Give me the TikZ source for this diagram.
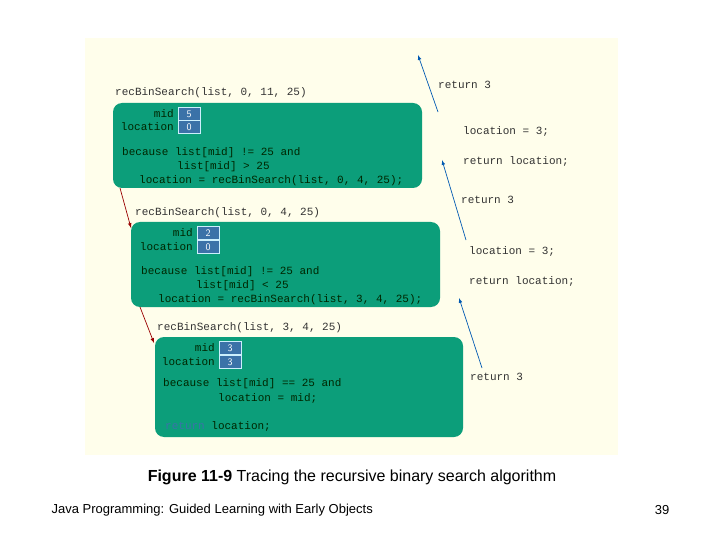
\documentclass[tikz,border=0pt]{standalone}
\usepackage{fontspec}
\setmainfont{Liberation Sans}
\newfontfamily\codefont{Liberation Mono}
\begin{document}
\begin{tikzpicture}[x=1pt,y=-1pt,
  code/.style={anchor=west,inner sep=0pt,font=\codefont\fontsize{11}{12}\selectfont,text=black!80},
  incode/.style={code,text=black!75!green!60!black},
  frame/.style={fill=green!55!black!70!cyan!90!black,rounded corners=9pt},
  valbox/.style={fill=blue!45!cyan!60!black,draw=cyan!20,line width=0.8pt,minimum width=22pt,minimum height=13pt,inner sep=0pt,text=white,font=\sffamily\fontsize{10}{10}\selectfont},
  ret/.style={draw=blue!50!cyan!70!black,line width=0.7pt,-latex},
  rec/.style={draw=red!60!black,line width=0.7pt,-latex}]
\useasboundingbox (0,0) rectangle (720,540);
\fill[white] (0,0) rectangle (720,540);
\fill[orange!10!yellow!8] (85,38) rectangle (618,455);
\definecolor{gbox}{HTML}{0C9E7A}
\definecolor{vbox}{HTML}{3B72A8}
\tikzset{frame/.style={fill=gbox,rounded corners=9pt},valbox/.append style={fill=vbox}}
% boxes
\fill[frame] (113,103) rectangle (422,188);
\fill[frame] (131,222) rectangle (440,307);
\fill[frame] (155,337) rectangle (463,437);
% headers
\node[code] (h1) at (115,93) {recBinSearch(list, 0, 11, 25)};
\node[code] (h2) at (135,213) {recBinSearch(list, 0, 4, 25)};
\node[code] (h3) at (157,328) {recBinSearch(list, 3, 4, 25)};
% box 1
\node[valbox] (m1) at (189,114) {5};
\node[valbox] (l1) at (189,127) {0};
\node[incode,anchor=east] at (174,114) {mid};
\node[incode,anchor=east] at (174,127) {location};
\node[incode] at (122,153) {because list[mid] != 25 and};
\node[incode] at (177,167) {list[mid] > 25};
\node[incode] at (139,181) {location = recBinSearch(list, 0, 4, 25);};
% box 2
\node[valbox] (m2) at (208,233) {2};
\node[valbox] (l2) at (208,247) {0};
\node[incode,anchor=east] at (193,233) {mid};
\node[incode,anchor=east] at (193,247) {location};
\node[incode] at (141,272) {because list[mid] != 25 and};
\node[incode] at (196,286) {list[mid] < 25};
\node[incode] at (158,300) {location = recBinSearch(list, 3, 4, 25);};
% box 3
\node[valbox] (m3) at (230,348) {3};
\node[valbox] (l3) at (230,362) {3};
\node[incode,anchor=east] at (215,348) {mid};
\node[incode,anchor=east] at (215,362) {location};
\node[incode] at (163,384) {because list[mid] == 25 and};
\node[incode] at (218,398) {location = mid;};
\node[incode] at (165,426) {\textcolor{vbox}{return} location;};
% right texts
\node[code] (r1) at (438,85) {return 3};
\node[code] (r2) at (463,131) {location = 3;};
\node[code] (r3) at (463,161) {return location;};
\node[code] (r4) at (461,200) {return 3};
\node[code] (r5) at (469,251) {location = 3;};
\node[code] (r6) at (469,281) {return location;};
\node[code] (r7) at (470,377) {return 3};
% arrows
\coordinate (a1s) at (438,112); \coordinate (a1e) at (418,55);
\coordinate (a2s) at (466,240); \coordinate (a2e) at (442,160);
\coordinate (a3s) at (482,368); \coordinate (a3e) at (459,298);
\draw[ret] (a1s) -- (a1e);
\draw[ret] (a2s) -- (a2e);
\draw[ret] (a3s) -- (a3e);
\coordinate (b1s) at (120,188); \coordinate (b1e) at (131,228);
\coordinate (b2s) at (140,307); \coordinate (b2e) at (154,343);
\draw[rec] (b1s) -- (b1e);
\draw[rec] (b2s) -- (b2e);
% caption
\node[font=\fontsize{16}{18}\selectfont] (cap) at (352,477) {\textbf{Figure 11-9} Tracing the recursive binary search algorithm};
\node[anchor=west,font=\fontsize{13}{15}\selectfont] (ft) at (48,510) {Java Programming: Guided Learning with Early Objects};
\node[font=\fontsize{13}{15}\selectfont] (pg) at (662,510) {39};
\end{tikzpicture}
\end{document}
